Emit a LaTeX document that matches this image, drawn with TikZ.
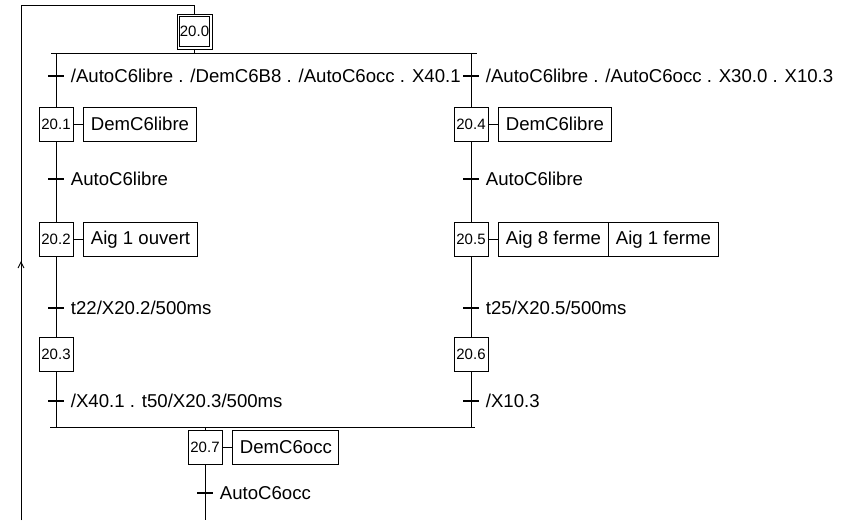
\documentclass[tikz,border=0pt]{standalone}
\usepackage{fontspec}
\setmainfont{Liberation Sans}
\usetikzlibrary{arrows.meta,positioning}
\tikzset{
    stepbox/.style={draw, minimum width=34pt, minimum height=34pt, inner sep=1pt,
    font=\fontsize{15}{17}\selectfont},
    initbox/.style={stepbox, minimum width=35pt, minimum height=35pt},
    actbox/.style={draw, minimum height=34pt, inner xsep=7pt, inner ysep=2pt,
    font=\fontsize{18.6}{20}\selectfont},
    transbar/.style={fill=black, minimum width=16pt, minimum height=1.8pt, inner sep=0pt},
    translabel/.style={anchor=west, inner sep=0pt, font=\fontsize{18.6}{20}\selectfont},
}

\begin{document}
\begin{tikzpicture}[x=1pt, y=-1pt, line width=0.9pt, node distance=10pt]
    \useasboundingbox (0,0) rectangle (854,520);
    % initial step
    \node[initbox] (s200) at (194.5,31.5) {20.0};
    \draw ([shift={(3,3)}]s200.north west) rectangle ([shift={(-3,-3)}]s200.south east);
    \coordinate (divL) at (51,53);
    \coordinate (divR) at (477,53);
    \coordinate (convL) at (50,427);
    \coordinate (convR) at (475,427);
    % left branch
    \node[transbar] (t1) at (56,76) {};
    \node[translabel, right=6pt of t1] (l1) {/AutoC6libre . /DemC6B8 . /AutoC6occ . X40.1};
    \node[stepbox] (s201) at (56,124) {20.1};
    \node[actbox, right=of s201] (a201) {DemC6libre};
    \node[transbar] (t2) at (56,179) {};
    \node[translabel, right=6pt of t2] (l2) {AutoC6libre};
    \node[stepbox] (s202) at (56,239.5) {20.2};
    \node[actbox, right=of s202] (a202) {Aig 1 ouvert};
    \node[transbar] (t3) at (56,308) {};
    \node[translabel, right=6pt of t3] (l3) {t22/X20.2/500ms};
    \node[stepbox] (s203) at (56,354.5) {20.3};
    \node[transbar] (t4) at (56,401) {};
    \node[translabel, right=6pt of t4] (l4) {/X40.1 . t50/X20.3/500ms};
    % right branch
    \node[transbar] (t5) at (471,76) {};
    \node[translabel, right=6pt of t5] (l5) {/AutoC6libre . /AutoC6occ . X30.0 . X10.3};
    \node[stepbox] (s204) at (471,124) {20.4};
    \node[actbox, right=of s204] (a204) {DemC6libre};
    \node[transbar] (t6) at (471,179) {};
    \node[translabel, right=6pt of t6] (l6) {AutoC6libre};
    \node[stepbox] (s205) at (471,239.5) {20.5};
    \node[actbox, right=of s205] (a205) {Aig 8 ferme};
    \node[actbox, right=0pt of a205] (a205b) {Aig 1 ferme};
    \node[transbar] (t7) at (471,308) {};
    \node[translabel, right=6pt of t7] (l7) {t25/X20.5/500ms};
    \node[stepbox] (s206) at (471,354.5) {20.6};
    \node[transbar] (t8) at (471,401) {};
    \node[translabel, right=6pt of t8] (l8) {/X10.3};
    % after convergence
    \node[stepbox] (s207) at (205,447.5) {20.7};
    \node[actbox, right=of s207] (a207) {DemC6occ};
    \node[transbar] (t9) at (205,493) {};
    \node[translabel, right=6pt of t9] (l9) {AutoC6occ};
    \coordinate (endB) at (205,520);
    % loop back
    \coordinate (loopB) at (21,520);
    \coordinate (loopA) at (21,261);
    \coordinate (loopT) at (21,5);
    \coordinate (loopTR) at (194.5,5);
    % links
    \draw (divL) -- (divR);
    \draw (convL) -- (convR);
    \draw (s200.south) -- (s200.south |- divL);
    \draw (s201.north |- divL) -- (s201.north);
    \draw (s204.north |- divR) -- (s204.north);
    \draw (s201) -- (s202);
    \draw (s202) -- (s203);
    \draw (s203.south) -- (s203.south |- convL);
    \draw (s204) -- (s205);
    \draw (s205) -- (s206);
    \draw (s206.south) -- (s206.south |- convR);
    \draw (s207.north |- convL) -- (s207.north);
    \draw (s207.south) -- (endB);
    \draw (s201) -- (a201);
    \draw (s202) -- (a202);
    \draw (s204) -- (a204);
    \draw (s205) -- (a205);
    \draw (s207) -- (a207);
    \draw (loopB) -- (loopT) -- (loopTR) -- (s200.north);
    \draw[-{Straight Barb[length=6pt, width=6pt]}] (loopB) -- (loopA);
\end{tikzpicture}
\end{document}
